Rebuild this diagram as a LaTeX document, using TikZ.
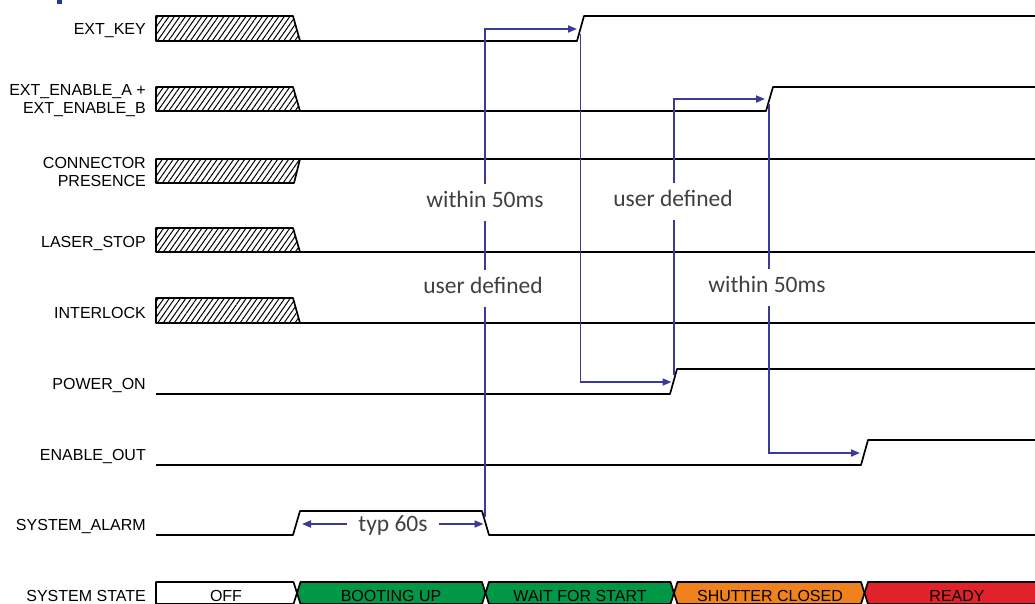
\documentclass[tikz,border=0pt]{standalone}
\usepackage{fontspec}
\setmainfont{Liberation Sans}
\newfontfamily\annfont{Carlito}
\usetikzlibrary{arrows.meta,patterns.meta}
\definecolor{bluec}{HTML}{3B3A96}
\definecolor{anngray}{HTML}{404040}
\definecolor{stgreen}{HTML}{009846}
\definecolor{storange}{HTML}{F0821E}
\definecolor{stred}{HTML}{E2222A}
\definecolor{markblue}{HTML}{1F3A9E}
\begin{document}
\begin{tikzpicture}[x=1pt,y=-1pt,
  sig/.style={draw=black,line width=1.7pt,line join=round},
  hatchbox/.style={draw=black,line width=1.7pt,line join=round,pattern={Lines[angle=55,distance=4.5pt,line width=1pt]}},
  lab/.style={anchor=east,align=right,inner sep=0pt,font=\fontsize{16}{18}\selectfont},
  bl/.style={draw=bluec,line width=1.8pt},
  arr/.style={bl,-{Triangle[length=9pt,width=7pt]}},
  ann/.style={font=\annfont\fontsize{23.5}{26}\selectfont,text=anngray,fill=white,text height=16pt,text depth=5pt,inner ysep=8pt,inner xsep=3pt},
  seg/.style={draw=black,line width=1.7pt,line join=round},
  sttext/.style={inner sep=0pt,font=\fontsize{16}{18}\selectfont}]
\clip (0,0) rectangle (1035,603);
\useasboundingbox (0,0) rectangle (1035,603);
\fill[white] (0,0) rectangle (1035,603);
\fill[markblue] (57,0) rectangle (62,4);

% labels
\node[lab] (lkey) at (146,31) {EXT\_KEY};
\node[lab] (len) at (146,101) {EXT\_ENABLE\_A +\\EXT\_ENABLE\_B};
\node[lab] (lcon) at (146,172) {CONNECTOR\\PRESENCE};
\node[lab] (lstop) at (146,243) {LASER\_STOP};
\node[lab] (lint) at (146,313) {INTERLOCK};
\node[lab] (lpow) at (146,385) {POWER\_ON};
\node[lab] (lout) at (146,456) {ENABLE\_OUT};
\node[lab] (lalarm) at (146,526) {SYSTEM\_ALARM};
\node[lab] (lstate) at (146,596) {SYSTEM STATE};

% hatched boxes
\path[hatchbox] (156,16) -- (293,16) -- (300,41) -- (156,41) -- cycle;
\path[hatchbox] (156,87) -- (293,87) -- (300,111) -- (156,111) -- cycle;
\path[hatchbox] (156,159) -- (300,159) -- (294,183) -- (156,183) -- cycle;
\path[hatchbox] (156,228) -- (293,228) -- (300,252) -- (156,252) -- cycle;
\path[hatchbox] (156,298) -- (293,298) -- (300,323) -- (156,323) -- cycle;

% signals
\draw[sig] (300,41) -- (577,41) -- (584,16) -- (1040,16);
\draw[sig] (300,111) -- (766,111) -- (773,87) -- (1040,87);
\draw[sig] (300,159) -- (1040,159);
\draw[sig] (300,252) -- (1040,252);
\draw[sig] (300,323) -- (1040,323);
\draw[sig] (156,394) -- (670,394) -- (677,369) -- (1040,369);
\draw[sig] (156,465) -- (861,465) -- (868,440) -- (1040,440);
\draw[sig] (156,535) -- (293,535) -- (300,511) -- (482,511) -- (489,535) -- (1040,535);

% edge coordinates
\coordinate (alarmfall) at (485.2,517);
\coordinate (keyrise) at (580.5,34);
\coordinate (keyin) at (577,29);
\coordinate (powrise) at (673.7,375);
\coordinate (powin) at (671.5,382);
\coordinate (enrise) at (769.3,104);
\coordinate (enin) at (765,99);
\coordinate (outin) at (860,453);

% blue connectors
\draw[arr] (alarmfall) |- (keyin);
\draw[arr] (keyrise) |- (powin);
\draw[arr] (powrise) |- (enin);
\draw[arr] (enrise) |- (outin);

% annotations
\node[ann] (a1) at (485,202) {within 50ms};
\node[ann] (a2) at (483,288) {user defined};
\node[ann] (a3) at (673,201) {user defined};
\node[ann] (a4) at (767,287) {within 50ms};
\node[ann,inner xsep=11pt,fill=none] (typ) at (393,526) {typ 60s};
\coordinate (typl) at (302,524);
\coordinate (typr) at (483.5,524);
\draw[arr] (typ.west |- typl) -- (typl);
\draw[arr] (typ.east |- typr) -- (typr);

% state bar
\draw[seg,fill=white] (156,582) -- (293.5,582) -- (297,593) -- (293.5,604) -- (156,604) -- cycle;
\draw[seg,fill=stgreen] (300.5,582) -- (482,582) -- (485.5,593) -- (482,604) -- (300.5,604) -- (297,593) -- cycle;
\draw[seg,fill=stgreen] (489,582) -- (670.5,582) -- (674,593) -- (670.5,604) -- (489,604) -- (485.5,593) -- cycle;
\draw[seg,fill=storange] (677.5,582) -- (861,582) -- (864.5,593) -- (861,604) -- (677.5,604) -- (674,593) -- cycle;
\draw[seg,fill=stred] (868,582) -- (1045,582) -- (1045,604) -- (868,604) -- (864.5,593) -- cycle;
\node[sttext] (soff) at (226,596) {OFF};
\node[sttext] (sboot) at (391,596) {BOOTING UP};
\node[sttext] (swait) at (580,596) {WAIT FOR START};
\node[sttext] (sshut) at (770,596) {SHUTTER CLOSED};
\node[sttext] (sready) at (957,596) {READY};
\end{tikzpicture}
\end{document}
